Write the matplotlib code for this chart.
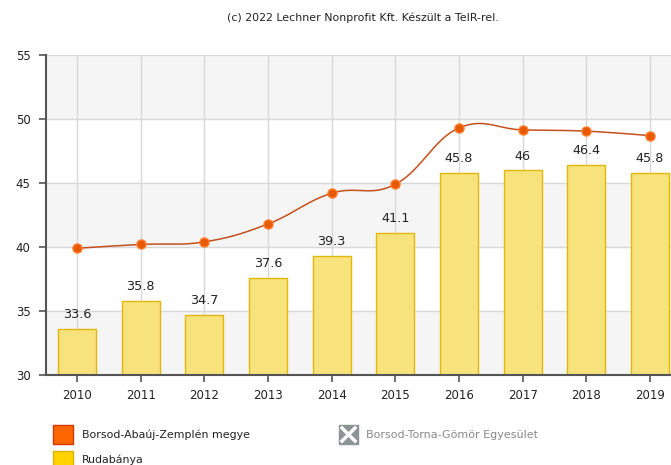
import numpy as np
import matplotlib.pyplot as plt
from matplotlib.patches import Rectangle
from matplotlib.lines import Line2D

years = ['2010', '2011', '2012', '2013', '2014', '2015', '2016', '2017', '2018', '2019']
rudabanya = [33.6, 35.8, 34.7, 37.6, 39.3, 41.1, 45.8, 46, 46.4, 45.8]
borsod = [39.9, 40.2, 40.4, 41.8, 44.2, 44.9, 49.3, 49.15, 49.05, 48.7]

W, H = 671, 465
fig = plt.figure(figsize=(W / 100, H / 100), dpi=100)
ax = fig.add_axes([46 / W, 1 - 375 / H, 1 - 46 / W, 320 / H])


def spline(xs, ys, smoothing=1.5, steps=40):
    # smooth bezier curve through the points, tangent parallel to neighbour chords
    n = len(xs)
    lc = [(xs[i], ys[i]) for i in range(n)]
    rc = [(xs[i], ys[i]) for i in range(n)]
    d = smoothing + 1
    for i in range(1, n - 1):
        x, y = xs[i], ys[i]
        lx, ly = (smoothing * x + xs[i - 1]) / d, (smoothing * y + ys[i - 1]) / d
        rx, ry = (smoothing * x + xs[i + 1]) / d, (smoothing * y + ys[i + 1]) / d
        corr = (ry - ly) * (rx - x) / (rx - lx) + y - ry
        lc[i] = (lx, ly + corr)
        rc[i] = (rx, ry + corr)
    t = np.linspace(0, 1, steps)[:, None]
    out = []
    for i in range(n - 1):
        p0 = np.array([xs[i], ys[i]])
        p1 = np.array(rc[i])
        p2 = np.array(lc[i + 1])
        p3 = np.array([xs[i + 1], ys[i + 1]])
        out.append((1 - t) ** 3 * p0 + 3 * (1 - t) ** 2 * t * p1 + 3 * (1 - t) * t ** 2 * p2 + t ** 3 * p3)
    pts = np.vstack(out)
    return pts[:, 0], pts[:, 1]


x = np.arange(len(years))

# alternating background bands
for lo in (30, 40, 50):
    ax.axhspan(lo, lo + 5, color='#f5f5f5', zorder=0)

ax.bar(x, [v - 30 for v in rudabanya], bottom=30, width=0.6,
       color='#f8e27c', edgecolor='#e2b70c', linewidth=1, zorder=2)
for xi, v in zip(x, rudabanya):
    ax.text(xi, v + 0.6, f'{v:g}', ha='center', va='bottom', fontsize=9.2, color='#222222', zorder=5)

sx, sy = spline(list(x), borsod)
ax.plot(sx, sy, color='#c4501c', linewidth=1.1, zorder=3)
ax.plot(x, borsod, 'o', markersize=6.5, markerfacecolor='#e85a00',
        markeredgecolor='#ff7a2a', markeredgewidth=1, zorder=4)

ax.set_xlim(-0.487, 9.33)
ax.set_ylim(30, 55)
ax.set_xticks(x)
ax.set_xticklabels(years)
ax.set_yticks([30, 35, 40, 45, 50, 55])
ax.grid(True, color='#d8d8d8', linewidth=1, zorder=1)
ax.set_axisbelow(True)
for s in ('top', 'right'):
    ax.spines[s].set_visible(False)
for s in ('left', 'bottom'):
    ax.spines[s].set_color('#555555')
    ax.spines[s].set_linewidth(1.5)
ax.tick_params(axis='both', length=5, width=1.2, color='#555555', labelsize=8.5, labelcolor='#222222')
ax.tick_params(axis='x', pad=5)
ax.tick_params(axis='y', pad=6)

fig.text(363 / W, 1 - 18 / H, '(c) 2022 Lechner Nonprofit Kft. Készült a TeIR-rel.',
         ha='center', va='center', fontsize=7.9, color='#222222')


def px_rect(x0, y0, w, h, **kw):
    fig.patches.append(Rectangle((x0 / W, 1 - (y0 + h) / H), w / W, h / H,
                                 transform=fig.transFigure, **kw))


# legend
px_rect(53, 425, 20, 19, facecolor='#ff6600', edgecolor='#cc3a00', linewidth=1)
fig.text(82 / W, 1 - 435 / H, 'Borsod-Abaúj-Zemplén megye', ha='left', va='center',
         fontsize=7.9, color='#222222')
px_rect(53, 451, 20, 19, facecolor='#ffd200', edgecolor='#e0b000', linewidth=1)
fig.text(82 / W, 1 - 460 / H, 'Rudabánya', ha='left', va='center', fontsize=7.9, color='#222222')
px_rect(339, 425, 19, 19, facecolor='#8a9494', edgecolor='#8a9494', linewidth=1)
for a, b in (((342, 428), (355, 441)), ((342, 441), (355, 428))):
    fig.lines.append(Line2D([a[0] / W, b[0] / W], [1 - a[1] / H, 1 - b[1] / H],
                            transform=fig.transFigure, color='white', linewidth=2.5))
fig.text(366 / W, 1 - 435 / H, 'Borsod-Torna-Gömör Egyesület', ha='left', va='center',
         fontsize=8, color='#888888')

fig.savefig('out.png', dpi=100)
